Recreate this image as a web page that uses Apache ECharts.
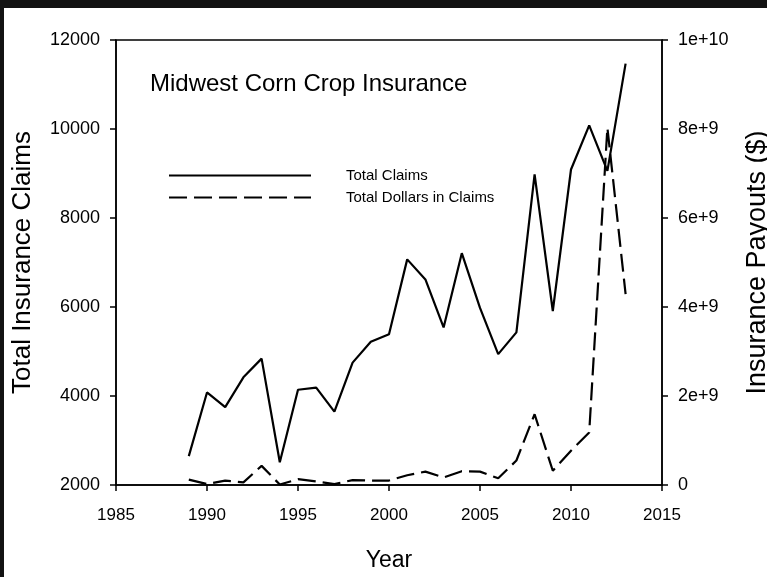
<!DOCTYPE html>
<html>
<head>
<meta charset="utf-8">
<script src="https://cdn.jsdelivr.net/npm/echarts@6/dist/echarts.min.js"></script>
<style>
    html, body { margin: 0; padding: 0; background: #121212; }
    #main { position: absolute; left: 4px; top: 8px; width: 763px; height: 569px; background: #fff; }
</style>
</head>
<body>
<div id="main"></div>
<script>
/**
 * 玉米保险 数据
 */
var years = [1989, 1990, 1991, 1992, 1993, 1994, 1995, 1996, 1997, 1998, 1999, 2000,
    2001, 2002, 2003, 2004, 2005, 2006, 2007, 2008, 2009, 2010, 2011, 2012, 2013];
var totalClaims = [2650, 4080, 3750, 4420, 4840, 2510, 4140, 4190, 3650, 4750, 5220, 5390,
    7070, 6620, 5540, 7210, 5980, 4940, 5430, 8980, 5910, 9090, 10080, 9060, 11470];
// 单位: 1e9 美元
var totalDollars = [0.12, 0.02, 0.10, 0.06, 0.43, 0.01, 0.13, 0.08, 0.02, 0.11, 0.10, 0.10,
    0.22, 0.30, 0.17, 0.31, 0.30, 0.15, 0.55, 1.59, 0.32, 0.77, 1.18, 8.03, 4.29];

var font = "'Liberation Sans', Arial, sans-serif";

var claimsData = [];
var dollarsData = [];
for (let i = 0; i < years.length; i++) {
    claimsData.push([years[i], totalClaims[i]]);
    dollarsData.push([years[i], totalDollars[i] * 1e9]);
}

function plain(v) {
    return String(v);
}

var chart = echarts.init(document.getElementById('main'));
option = {
    animation: false,
    title: {
        text: 'Midwest Corn Crop Insurance',
        left: 146,
        top: 64,
        padding: 0,
        textStyle: {
            color: '#000',
            fontFamily: font,
            fontWeight: 'normal',
            fontSize: 24
        }
    },
    legend: {
        orient: 'vertical',
        left: 164,
        top: 160,
        padding: 0,
        itemWidth: 142,
        itemHeight: 16,
        itemGap: 7,
        itemStyle: { color: 'rgba(0,0,0,0)', borderWidth: 0 },
        textStyle: {
            color: '#000',
            fontFamily: font,
            fontSize: 15,
            padding: [0, 0, 0, 30]
        },
        data: ['Total Claims', 'Total Dollars in Claims']
    },
    grid: {
        left: 112,
        right: 105,
        top: 32,
        bottom: 92,
        containLabel: false,
        outerBoundsMode: 'none',
        show: true,
        borderColor: '#000',
        borderWidth: 1.5
    },
    xAxis: {
        type: 'value',
        name: 'Year',
        nameLocation: 'middle',
        nameGap: 64,
        nameTextStyle: { color: '#000', fontFamily: font, fontSize: 23 },
        min: 1985,
        max: 2015,
        interval: 5,
        splitLine: { show: false },
        axisLine: { show: true, lineStyle: { color: '#000', width: 1.5 } },
        axisTick: { show: true, length: 6, lineStyle: { color: '#000', width: 1.5 } },
        axisLabel: { color: '#000', fontFamily: font, fontSize: 17, margin: 22, formatter: plain }
    },
    yAxis: [
        {
            type: 'value',
            name: 'Total Insurance Claims',
            nameLocation: 'middle',
            nameRotate: 90,
            nameGap: 80,
            nameTextStyle: { color: '#000', fontFamily: font, fontSize: 26 },
            min: 2000,
            max: 12000,
            interval: 2000,
            splitLine: { show: false },
            axisLine: { show: true, lineStyle: { color: '#000', width: 1.5 } },
            axisTick: { show: true, length: 6, lineStyle: { color: '#000', width: 1.5 } },
            axisLabel: { color: '#000', fontFamily: font, fontSize: 18, margin: 16, formatter: plain }
        },
        {
            type: 'value',
            name: 'Insurance Payouts ($)',
            nameLocation: 'middle',
            nameRotate: 90,
            nameGap: 82,
            nameTextStyle: { color: '#000', fontFamily: font, fontSize: 27 },
            min: 0,
            max: 1e10,
            interval: 2e9,
            splitLine: { show: false },
            axisLine: { show: true, lineStyle: { color: '#000', width: 1.5 } },
            axisTick: { show: true, length: 6, lineStyle: { color: '#000', width: 1.5 } },
            axisLabel: {
                color: '#000', fontFamily: font, fontSize: 18, margin: 16,
                formatter: function (v) {
                    return v === 0 ? '0' : v.toExponential(0);
                }
            }
        }
    ],
    series: [
        {
            name: 'Total Claims',
            type: 'line',
            yAxisIndex: 0,
            symbol: 'none',
            lineStyle: { color: '#000', width: 2.2 },
            itemStyle: { color: '#000' },
            data: claimsData
        },
        {
            name: 'Total Dollars in Claims',
            type: 'line',
            yAxisIndex: 1,
            symbol: 'none',
            lineStyle: { color: '#000', width: 2.2, type: [18, 7] },
            itemStyle: { color: '#000' },
            data: dollarsData
        }
    ]
};

chart.setOption(option);
window.onresize = chart.resize;
</script>
</body>
</html>
